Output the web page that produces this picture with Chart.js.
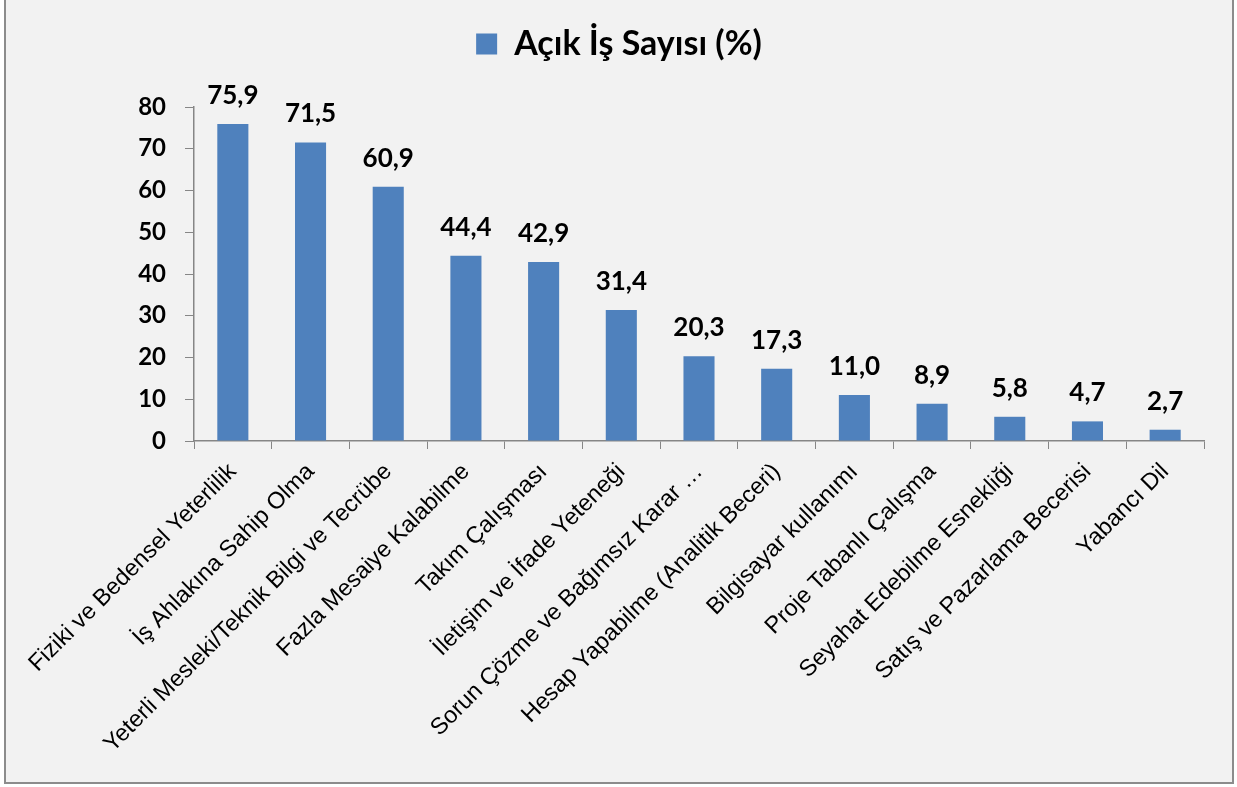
<!DOCTYPE html>
<html>
<head>
<meta charset="utf-8">
<script src="https://cdn.jsdelivr.net/npm/chart.js@4"></script>
<style>
  html, body { margin: 0; padding: 0; background: #ffffff; }
  #frame {
    position: absolute;
    left: 4px;
    top: -2px;
    width: 1230px;
    height: 786px;
    box-sizing: border-box;
    border: 2px solid #8c8c8c;
    background: #f2f2f2;
  }
  #chart { display: block; }
</style>
</head>
<body>
<div id="frame"><canvas id="chart" width="1226" height="782"></canvas></div>
<script>
const categories = [
  "Fiziki ve Bedensel Yeterlilik",
  "İş Ahlakına Sahip Olma",
  "Yeterli Mesleki/Teknik Bilgi ve Tecrübe",
  "Fazla Mesaiye Kalabilme",
  "Takım Çalışması",
  "İletişim ve İfade Yeteneği",
  "Sorun Çözme ve Bağımsız Karar …",
  "Hesap Yapabilme (Analitik Beceri)",
  "Bilgisayar kullanımı",
  "Proje Tabanlı Çalışma",
  "Seyahat Edebilme Esnekliği",
  "Satış ve Pazarlama Becerisi",
  "Yabancı Dil",
];
const openJobs = [75.9, 71.5, 60.9, 44.4, 42.9, 31.4, 20.3, 17.3, 11.0, 8.9, 5.8, 4.7, 2.7];
const seriesName = "Açık İş Sayısı (%)";
const yTicks = [0, 10, 20, 30, 40, 50, 60, 70, 80];

const AXIS_GREY = "#868686";
const BAR_BLUE = "#4f81bd";

// value labels above each bar, "75,9" style
const barValueLabels = {
  id: "barValueLabels",
  afterDatasetsDraw(chart) {
    const ctx = chart.ctx;
    const meta = chart.getDatasetMeta(0);
    ctx.save();
    ctx.font = "bold 26px Lato";
    ctx.fillStyle = "#000000";
    ctx.textAlign = "center";
    ctx.textBaseline = "alphabetic";
    meta.data.forEach((bar, i) => {
      const txt = openJobs[i].toFixed(1).replace(".", ",");
      ctx.fillText(txt, bar.x, bar.y - 20);
    });
    ctx.restore();
  },
};

new Chart(document.getElementById("chart"), {
  type: "bar",
  data: {
    labels: categories,
    datasets: [
      {
        label: seriesName,
        data: openJobs,
        backgroundColor: BAR_BLUE,
        borderWidth: 0,
        barPercentage: 0.4,
        categoryPercentage: 1,
      },
    ],
  },
  options: {
    responsive: false,
    animation: false,
    layout: {
      padding: 0,
    },
    plugins: {
      legend: {
        display: true,
        position: "top",
        labels: {
          color: "#000000",
          font: { family: "Lato", size: 34, weight: "bold" },
          boxWidth: 21,
          boxHeight: 21,
          padding: 27,
        },
      },
      // empty spacer between legend and plot
      title: {
        display: true,
        text: "",
        weight: 500,
        font: { size: 10 },
        padding: { top: 0, bottom: 24 },
      },
      tooltip: { enabled: false },
    },
    scales: {
      x: {
        offset: true,
        grid: {
          offset: true,
          drawOnChartArea: false,
          drawTicks: true,
          tickLength: 8,
          color: AXIS_GREY,
        },
        border: { color: AXIS_GREY, width: 1.5 },
        ticks: {
          autoSkip: false,
          minRotation: 45,
          maxRotation: 45,
          padding: 9,
          color: "#000000",
          font: { family: "Liberation Sans", size: 23.5 },
        },
        afterFit: (s) => {
          s.height = 341;
          s.paddingRight = 28;
        },
      },
      y: {
        min: 0,
        max: 80,
        afterBuildTicks: (s) => { s.ticks = yTicks.map((v) => ({ value: v })); },
        grid: {
          drawOnChartArea: false,
          drawTicks: true,
          tickLength: 9,
          color: AXIS_GREY,
        },
        border: { color: AXIS_GREY, width: 1.5 },
        ticks: {
          padding: 19,
          color: "#000000",
          font: { family: "Lato", size: 24, weight: "bold" },
        },
        afterFit: (s) => { s.width = 188; },
      },
    },
  },
  plugins: [barValueLabels],
});
</script>
</body>
</html>
